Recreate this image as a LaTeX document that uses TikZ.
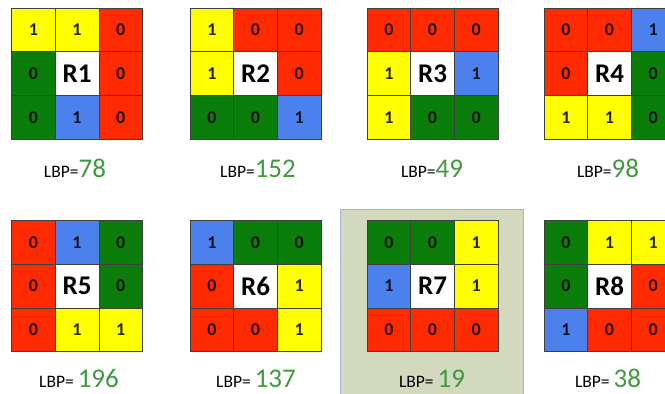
\documentclass[tikz,border=0pt]{standalone}
\usepackage{fontspec}
\setmainfont{Carlito}
\usetikzlibrary{calc}
\definecolor{yel}{HTML}{FFFF00}
\definecolor{red}{HTML}{FF2A00}
\definecolor{grn}{HTML}{0A7D0A}
\definecolor{blu}{HTML}{4C80EC}
\definecolor{wht}{HTML}{FFFFFF}
\definecolor{lbpgreen}{HTML}{3F993F}
\definecolor{hlfill}{HTML}{D3D9BD}
\definecolor{hlline}{HTML}{A4B8CC}
\newcommand\rlab[1]{{\color{black}\fontsize{27}{27}\selectfont #1}}
\newcommand\lbptext[2]{{\fontsize{17.5}{17.5}\selectfont LBP=#1\textcolor{lbpgreen}{\fontsize{27}{27}\selectfont #2}}}
\newcommand\lbpgrid[3]{%
  \foreach [count=\k from 0] \c/\v in {#3} {
    \pgfmathtruncatemacro\rr{div(\k,3)}
    \pgfmathtruncatemacro\cc{mod(\k,3)}
    \node[cellbox, fill=\c, text=\c!15!black] (#1-\k) at ($(#2)+(\cc*43.67+21.83,\rr*43.67+21.83)$) {\bfseries\fontsize{18}{18}\selectfont\v};
  }
}
\begin{document}
\begin{tikzpicture}[x=1pt,y=-1pt,
  cellbox/.style={draw=black!75, line width=0.6pt, minimum size=43.67pt, inner sep=0pt, outer sep=0pt},
  lbplabel/.style={anchor=base, inner sep=0pt}]
\useasboundingbox (0,0) rectangle (665,394);
\clip (0,0) rectangle (665,394);
\fill[white] (0,0) rectangle (665,394);
\node[draw=hlline, fill=hlfill, line width=1pt, minimum width=183pt, minimum height=200pt, anchor=north west, inner sep=0pt] (hl) at (340,209) {};
\coordinate (o1) at (11.5,8);
\coordinate (o2) at (190,8);
\coordinate (o3) at (367,8);
\coordinate (o4) at (544,8);
\coordinate (o5) at (11.5,220.5);
\coordinate (o6) at (190,220.5);
\coordinate (o7) at (367,220.5);
\coordinate (o8) at (544,220.5);
\lbpgrid{g1}{o1}{yel/1,yel/1,red/0,grn/0,wht/\rlab{R1},red/0,grn/0,blu/1,red/0}
\lbpgrid{g2}{o2}{yel/1,red/0,red/0,yel/1,wht/\rlab{R2},red/0,grn/0,grn/0,blu/1}
\lbpgrid{g3}{o3}{red/0,red/0,red/0,yel/1,wht/\rlab{R3},blu/1,yel/1,grn/0,grn/0}
\lbpgrid{g4}{o4}{red/0,red/0,blu/1,red/0,wht/\rlab{R4},grn/0,yel/1,yel/1,grn/0}
\lbpgrid{g5}{o5}{red/0,blu/1,grn/0,red/0,wht/\rlab{R5},grn/0,red/0,yel/1,yel/1}
\lbpgrid{g6}{o6}{blu/1,grn/0,grn/0,red/0,wht/\rlab{R6},yel/1,red/0,red/0,yel/1}
\lbpgrid{g7}{o7}{grn/0,grn/0,yel/1,blu/1,wht/\rlab{R7},yel/1,red/0,red/0,red/0}
\lbpgrid{g8}{o8}{grn/0,yel/1,yel/1,grn/0,wht/\rlab{R8},red/0,blu/1,red/0,red/0}
\node[lbplabel] (l1) at (75,177) {\lbptext{}{78}};
\node[lbplabel] (l2) at (258,177) {\lbptext{}{152}};
\node[lbplabel] (l3) at (432,177) {\lbptext{}{49}};
\node[lbplabel] (l4) at (608,177) {\lbptext{}{98}};
\node[lbplabel] (l5) at (79,387) {\lbptext{ }{196}};
\node[lbplabel] (l6) at (256,387) {\lbptext{ }{137}};
\node[lbplabel] (l7) at (432,387) {\lbptext{ }{19}};
\node[lbplabel] (l8) at (608,387) {\lbptext{ }{38}};
\end{tikzpicture}
\end{document}
